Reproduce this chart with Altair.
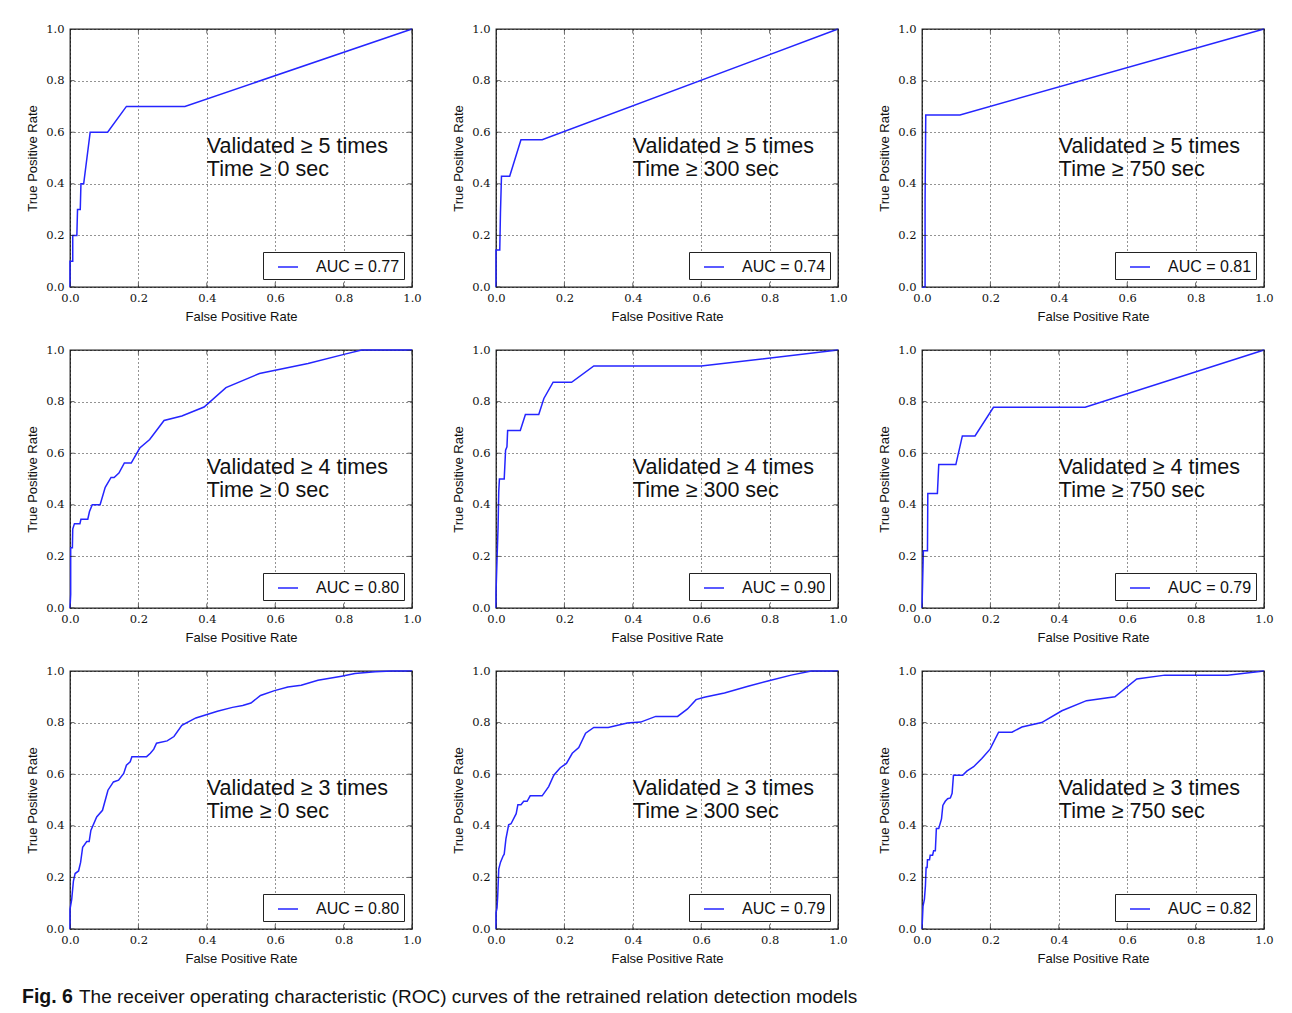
import altair as alt
import pandas as pd

SANS = "Liberation Sans"
SERIF = "DejaVu Serif"
BLUE = "#2525ff"

validated = [5, 5, 5, 4, 4, 4, 3, 3, 3]
min_time = [0, 300, 750, 0, 300, 750, 0, 300, 750]
auc = ["0.77", "0.74", "0.81", "0.80", "0.90", "0.79", "0.80", "0.79", "0.82"]
tick_values = [0.0, 0.2, 0.4, 0.6, 0.8, 1.0]

fpr_v5_t0 = [0, 0, 0.008, 0.008, 0.02, 0.022, 0.03, 0.032, 0.04, 0.059, 0.11, 0.165, 0.336, 1.0]
tpr_v5_t0 = [0, 0.1, 0.1, 0.2, 0.2, 0.3, 0.3, 0.4, 0.4, 0.6, 0.6, 0.7, 0.7, 1.0]

fpr_v5_t300 = [0, 0, 0.011, 0.013, 0.016, 0.04, 0.073, 0.135, 1.0]
tpr_v5_t300 = [0, 0.143, 0.143, 0.286, 0.429, 0.429, 0.571, 0.571, 1.0]

fpr_v5_t750 = [0, 0.009, 0.009, 0.011, 0.111, 1.0]
tpr_v5_t750 = [0, 0, 0.333, 0.667, 0.667, 1.0]

fpr_v4_t0 = [0, 0.002, 0.002, 0.007, 0.008, 0.013, 0.029, 0.032, 0.052, 0.057, 0.065, 0.088,
             0.103, 0.12, 0.129, 0.143, 0.159, 0.179, 0.204, 0.233, 0.275, 0.327, 0.392, 0.456,
             0.554, 0.696, 0.804, 0.853, 1.0]
tpr_v4_t0 = [0, 0.052, 0.234, 0.234, 0.306, 0.327, 0.327, 0.344, 0.344, 0.374, 0.4, 0.4,
             0.468, 0.506, 0.506, 0.523, 0.562, 0.562, 0.62, 0.653, 0.727, 0.744, 0.779, 0.854,
             0.909, 0.948, 0.984, 1.0, 1.0]

fpr_v4_t300 = [0, 0, 0.003, 0.006, 0.008, 0.01, 0.024, 0.028, 0.032, 0.034, 0.071, 0.086,
               0.125, 0.14, 0.167, 0.221, 0.286, 0.6, 1.0]
tpr_v4_t300 = [0, 0.058, 0.188, 0.312, 0.45, 0.5, 0.5, 0.612, 0.625, 0.688, 0.688, 0.75,
               0.75, 0.812, 0.875, 0.875, 0.938, 0.938, 1.0]

fpr_v4_t750 = [0, 0.004, 0.016, 0.017, 0.045, 0.049, 0.099, 0.118, 0.155, 0.209, 0.477, 1.0]
tpr_v4_t750 = [0, 0.222, 0.222, 0.444, 0.444, 0.556, 0.556, 0.667, 0.667, 0.778, 0.778, 1.0]

fpr_v3_t0 = [0, 0, 0.005, 0.01, 0.015, 0.025, 0.031, 0.037, 0.049, 0.056, 0.061, 0.078, 0.095,
             0.111, 0.127, 0.142, 0.157, 0.165, 0.176, 0.181, 0.224, 0.235, 0.245, 0.253, 0.284,
             0.304, 0.327, 0.368, 0.431, 0.475, 0.505, 0.529, 0.557, 0.598, 0.637, 0.676, 0.725,
             0.794, 0.833, 0.892, 0.941, 1.0]
tpr_v3_t0 = [0, 0.076, 0.115, 0.186, 0.215, 0.225, 0.258, 0.317, 0.339, 0.339, 0.382, 0.434, 0.46,
             0.538, 0.57, 0.577, 0.603, 0.635, 0.648, 0.668, 0.668, 0.681, 0.697, 0.72, 0.729,
             0.746, 0.789, 0.818, 0.844, 0.859, 0.866, 0.876, 0.905, 0.924, 0.938, 0.945, 0.964,
             0.98, 0.99, 0.997, 1.0, 1.0]

fpr_v3_t300 = [0, 0, 0.003, 0.005, 0.008, 0.013, 0.021, 0.024, 0.029, 0.037, 0.044, 0.059, 0.064,
               0.073, 0.081, 0.091, 0.1, 0.135, 0.154, 0.169, 0.188, 0.206, 0.223, 0.242, 0.262,
               0.286, 0.328, 0.384, 0.423, 0.467, 0.531, 0.56, 0.585, 0.609, 0.668, 0.737, 0.795,
               0.863, 0.922, 1.0]
tpr_v3_t300 = [0, 0.063, 0.082, 0.128, 0.232, 0.258, 0.284, 0.29, 0.349, 0.404, 0.408, 0.447, 0.482,
               0.482, 0.495, 0.495, 0.516, 0.516, 0.552, 0.596, 0.625, 0.642, 0.681, 0.703, 0.759,
               0.781, 0.781, 0.798, 0.802, 0.824, 0.824, 0.853, 0.889, 0.898, 0.915, 0.941, 0.961,
               0.984, 1.0, 1.0]

fpr_v3_t750 = [0, 0.003, 0.007, 0.01, 0.012, 0.015, 0.016, 0.022, 0.024, 0.031, 0.034, 0.039, 0.042,
               0.049, 0.057, 0.061, 0.068, 0.075, 0.083, 0.088, 0.092, 0.119, 0.131, 0.151, 0.175,
               0.199, 0.224, 0.263, 0.292, 0.35, 0.409, 0.481, 0.564, 0.628, 0.71, 0.893, 1.0]
tpr_v3_t750 = [0, 0.089, 0.115, 0.167, 0.238, 0.238, 0.268, 0.268, 0.286, 0.286, 0.303, 0.303, 0.39,
               0.39, 0.427, 0.479, 0.495, 0.505, 0.508, 0.526, 0.596, 0.596, 0.612, 0.629, 0.661,
               0.697, 0.763, 0.763, 0.783, 0.8, 0.846, 0.885, 0.9, 0.969, 0.984, 0.984, 1.0]

curves = [
    (fpr_v5_t0, tpr_v5_t0), (fpr_v5_t300, tpr_v5_t300), (fpr_v5_t750, tpr_v5_t750),
    (fpr_v4_t0, tpr_v4_t0), (fpr_v4_t300, tpr_v4_t300), (fpr_v4_t750, tpr_v4_t750),
    (fpr_v3_t0, tpr_v3_t0), (fpr_v3_t300, tpr_v3_t300), (fpr_v3_t750, tpr_v3_t750),
]

# inward tick marks on all four frame edges (matplotlib classic style)
xtick_df = pd.DataFrame({"fpr": tick_values * 2, "tpr": [0.0] * 6 + [1.0] * 6})
ytick_df = pd.DataFrame({"fpr": [0.0] * 6 + [1.0] * 6, "tpr": tick_values * 2})


def panel(k):
    fpr, tpr = curves[k]
    label = f"AUC = {auc[k]}"
    df = pd.DataFrame({"fpr": fpr, "tpr": tpr, "i": list(range(len(fpr))), "label": label})
    xenc = alt.X("fpr:Q", scale=alt.Scale(domain=[0, 1], nice=False),
                 axis=alt.Axis(title="False Positive Rate", values=tick_values, format=".1f"))
    yenc = alt.Y("tpr:Q", scale=alt.Scale(domain=[0, 1], nice=False),
                 axis=alt.Axis(title="True Positive Rate", values=tick_values, format=".1f"))
    line = alt.Chart(df).mark_line(strokeWidth=1.5).encode(
        x=xenc, y=yenc,
        order="i:Q",
        color=alt.Color("label:N", scale=alt.Scale(range=[BLUE]),
                        legend=alt.Legend(title=None, orient="bottom-right", offset=8,
                                          strokeColor="#222222", fillColor="white",
                                          padding=4, symbolType="stroke", symbolSize=400,
                                          symbolStrokeWidth=1.5, symbolOffset=10,
                                          labelFontSize=16, labelFont=SANS, labelOffset=17,
                                          labelColor="#111111")),
    )
    xt = alt.Chart(xtick_df).mark_tick(orient="vertical", size=9, thickness=1,
                                       color="#222222", clip=True).encode(x="fpr:Q", y="tpr:Q")
    yt = alt.Chart(ytick_df).mark_tick(orient="horizontal", size=9, thickness=1,
                                       color="#222222", clip=True).encode(x="fpr:Q", y="tpr:Q")
    note_df = pd.DataFrame({"t": [f"Validated \u2265 {validated[k]} times\nTime \u2265 {min_time[k]} sec"]})
    note = alt.Chart(note_df).mark_text(
        align="left", baseline="alphabetic", fontSize=21.5, lineHeight=23,
        font=SANS, lineBreak="\n", color="#111111"
    ).encode(x=alt.datum(0.40), y=alt.datum(0.52), text="t:N")
    return alt.layer(line, xt, yt, note).properties(width=342, height=258)


grid = alt.concat(
    *[panel(k) for k in range(9)], columns=3,
    spacing={"row": 63, "column": 84}, bounds="flush"
).resolve_scale(color="independent")

cap_df = pd.DataFrame({"a": ["Fig. 6"], "b": ["The receiver operating characteristic (ROC) curves of the retrained relation detection models"]})
cap_bold = alt.Chart(cap_df).mark_text(align="left", baseline="alphabetic", fontSize=19.5,
                                       fontWeight="bold", font=SANS, color="#111111").encode(
    x=alt.value(-48), y=alt.value(12), text="a:N")
cap_rest = alt.Chart(cap_df).mark_text(align="left", baseline="alphabetic", fontSize=19,
                                       font=SANS, color="#111111").encode(
    x=alt.value(9), y=alt.value(12), text="b:N")
caption = alt.layer(cap_bold, cap_rest).properties(width=1194, height=22, view=alt.ViewConfig(stroke=None))

chart = alt.vconcat(grid, caption, spacing=20).resolve_scale(color="independent").configure(
    background="white",
    padding={"left": 14, "top": 14, "right": 10, "bottom": 4},
).configure_view(
    stroke="#222222", strokeWidth=1.3
).configure_axis(
    grid=True, gridColor="#000000", gridDash=[1, 3], gridWidth=1, gridOpacity=0.85,
    domain=False, ticks=False, labelFlush=False,
    labelFont=SERIF, labelFontSize=11.5, labelColor="#111111",
    titleFont=SANS, titleFontSize=13, titleFontWeight="normal", titleColor="#111111",
).configure_axisX(
    labelPadding=5, titlePadding=7
).configure_axisY(
    labelPadding=6, titlePadding=6
)

chart.save("out.html", embed_options={"renderer": "svg", "actions": False})
